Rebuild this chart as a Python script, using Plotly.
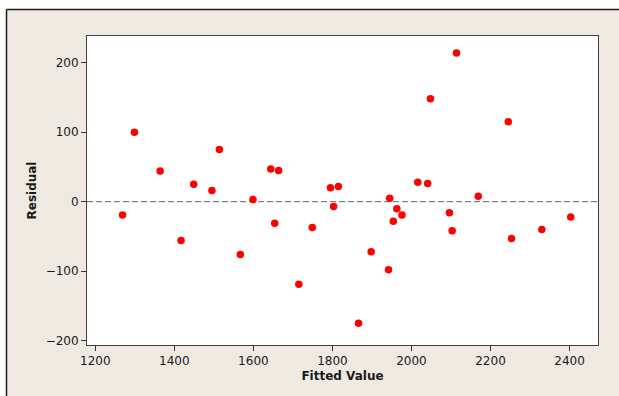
import plotly.graph_objects as go

# Residuals versus fitted values
fitted = [1269, 1299, 1364, 1417, 1449, 1495, 1514, 1567, 1599, 1644,
          1654, 1664, 1715, 1749, 1795, 1803, 1815, 1866, 1898, 1942,
          1945, 1954, 1963, 1976, 2016, 2041, 2048, 2096, 2103, 2114,
          2169, 2245, 2253, 2330, 2403]
residual = [-19, 100, 44, -56, 25, 16, 75, -76, 3, 47,
            -31, 45, -119, -37, 20, -7, 22, -175, -72, -98,
            5, -28, -10, -19, 28, 26, 148, -16, -42, 214,
            8, 115, -53, -40, -22]

x_ticks = [1200, 1400, 1600, 1800, 2000, 2200, 2400]
y_ticks = [-200, -100, 0, 100, 200]

W, H = 619, 396
ML, MR, MT, MB = 87, 21, 36, 51
PW, PH = W - ML - MR, H - MT - MB

BEIGE = "#EEEAE1"
FONT = "DejaVu Sans"


def px_x(p):
    return (p - ML) / PW


def px_y(p):
    return (H - MB - p) / PH


fig = go.Figure()
fig.add_trace(go.Scatter(
    x=fitted, y=residual, mode="markers",
    marker=dict(color="#FF0000", size=7.5, line=dict(width=0)),
    showlegend=False, hoverinfo="x+y",
))

shapes = [
    # white strips outside the framed panel
    dict(type="rect", xref="paper", yref="paper", x0=px_x(0), x1=px_x(W),
         y0=px_y(0), y1=px_y(9.5), fillcolor="white", line_width=0, layer="below"),
    dict(type="rect", xref="paper", yref="paper", x0=px_x(0), x1=px_x(6.5),
         y0=px_y(0), y1=px_y(H), fillcolor="white", line_width=0, layer="below"),
    # panel frame lines (top and left)
    dict(type="line", xref="paper", yref="paper", x0=px_x(6.5), x1=px_x(W),
         y0=px_y(9.5), y1=px_y(9.5), line=dict(color="#1a1a1a", width=1.5)),
    dict(type="line", xref="paper", yref="paper", x0=px_x(6.5), x1=px_x(6.5),
         y0=px_y(9.5), y1=px_y(H), line=dict(color="#1a1a1a", width=1.5)),
    # zero reference line
    dict(type="line", xref="paper", yref="y", x0=0, x1=1, y0=0, y1=0,
         line=dict(color="#666666", width=1, dash="6px,3px"), layer="below"),
]

axis_common = dict(
    showgrid=False, zeroline=False, showline=True, mirror=True,
    linecolor="#404040", linewidth=1,
    ticks="outside", ticklen=5, tickwidth=1, tickcolor="#333333",
    tickfont=dict(family=FONT, size=12, color="#1a1a1a"),
)

fig.update_layout(
    width=W, height=H,
    margin=dict(l=ML, r=MR, t=MT, b=MB, pad=0),
    paper_bgcolor=BEIGE, plot_bgcolor="white",
    shapes=shapes,
    xaxis=dict(range=[1179, 2472], tickvals=x_ticks,
               title=dict(text="<b>Fitted Value</b>", standoff=4,
                          font=dict(family=FONT, size=12, color="#1a1a1a")),
               **axis_common),
    yaxis=dict(range=[-206.3, 238.5], tickvals=y_ticks,
               title=dict(text="<b>Residual</b>", standoff=6,
                          font=dict(family=FONT, size=12, color="#1a1a1a")),
               **axis_common),
)

fig.write_html("out.html")
